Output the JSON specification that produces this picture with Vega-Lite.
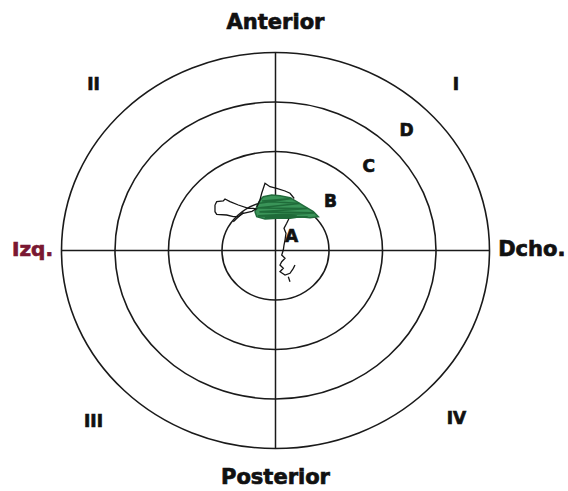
{
  "$schema": "https://vega.github.io/schema/vega-lite/v6.json",
  "width": 568,
  "height": 491,
  "autosize": {"type": "none"},
  "padding": 0,
  "background": "white",
  "config": {"view": {"stroke": null}},
  "datasets": {
    "rings": [{"r": 1}, {"r": 2}, {"r": 3}, {"r": 4}],
    "cross": [
      {"x1": -4, "x2": 4, "y1": 0, "y2": 0},
      {"x1": 0, "x2": 0, "y1": -4, "y2": 4}
    ],
    "blob": [
      {"o": 1, "u": -0.351, "v": 0.885},
      {"o": 2, "u": -0.29, "v": 1.02},
      {"o": 3, "u": -0.228, "v": 1.087},
      {"o": 4, "u": -0.071, "v": 1.121},
      {"o": 5, "u": 0.084, "v": 1.107},
      {"o": 6, "u": 0.271, "v": 1.067},
      {"o": 7, "u": 0.396, "v": 0.986},
      {"o": 8, "u": 0.551, "v": 0.885},
      {"o": 9, "u": 0.707, "v": 0.784},
      {"o": 10, "u": 0.8, "v": 0.683},
      {"o": 11, "u": 0.645, "v": 0.663},
      {"o": 12, "u": 0.458, "v": 0.683},
      {"o": 13, "u": 0.271, "v": 0.651},
      {"o": 14, "u": 0.022, "v": 0.651},
      {"o": 15, "u": -0.196, "v": 0.636},
      {"o": 16, "u": -0.351, "v": 0.683},
      {"o": 17, "u": -0.383, "v": 0.784},
      {"o": 18, "u": -0.351, "v": 0.885}
    ],
    "scribble": [
      {"o": 1, "u": -0.33, "v": 0.95},
      {"o": 2, "u": 0.3, "v": 1.05},
      {"o": 3, "u": -0.25, "v": 1.0},
      {"o": 4, "u": 0.45, "v": 0.95},
      {"o": 5, "u": -0.35, "v": 0.86},
      {"o": 6, "u": 0.6, "v": 0.85},
      {"o": 7, "u": -0.3, "v": 0.78},
      {"o": 8, "u": 0.72, "v": 0.76},
      {"o": 9, "u": -0.33, "v": 0.7},
      {"o": 10, "u": 0.6, "v": 0.68},
      {"o": 11, "u": -0.2, "v": 0.66},
      {"o": 12, "u": 0.4, "v": 0.72}
    ],
    "outline": [
      {"s": "L", "o": 1, "u": -1.131, "v": 0.919},
      {"s": "L", "o": 2, "u": -1.099, "v": 0.986},
      {"s": "L", "o": 3, "u": -0.976, "v": 1.0},
      {"s": "L", "o": 4, "u": -0.944, "v": 1.04},
      {"s": "L", "o": 5, "u": -0.85, "v": 0.986},
      {"s": "L", "o": 6, "u": -0.695, "v": 0.919},
      {"s": "L", "o": 7, "u": -0.508, "v": 0.853},
      {"s": "L", "o": 8, "u": -0.415, "v": 0.853},
      {"s": "L", "o": 9, "u": -0.36, "v": 0.84},
      {"s": "L", "o": 10, "u": -0.44, "v": 0.79},
      {"s": "L", "o": 11, "u": -0.602, "v": 0.752},
      {"s": "L", "o": 12, "u": -0.695, "v": 0.683},
      {"s": "L", "o": 13, "u": -0.789, "v": 0.683},
      {"s": "L", "o": 14, "u": -0.912, "v": 0.717},
      {"s": "L", "o": 15, "u": -1.099, "v": 0.731},
      {"s": "L", "o": 16, "u": -1.131, "v": 0.784},
      {"s": "L", "o": 17, "u": -1.131, "v": 0.919},
      {"s": "U", "o": 1, "u": -0.35, "v": 0.88},
      {"s": "U", "o": 2, "u": -0.29, "v": 1.02},
      {"s": "U", "o": 3, "u": -0.258, "v": 1.156},
      {"s": "U", "o": 4, "u": -0.196, "v": 1.358},
      {"s": "U", "o": 5, "u": -0.103, "v": 1.289},
      {"s": "U", "o": 6, "u": 0.022, "v": 1.257},
      {"s": "U", "o": 7, "u": 0.178, "v": 1.202},
      {"s": "U", "o": 8, "u": 0.271, "v": 1.156},
      {"s": "U", "o": 9, "u": 0.35, "v": 1.05},
      {"s": "X", "o": 1, "u": -0.789, "v": 0.582},
      {"s": "X", "o": 2, "u": -0.602, "v": 0.772},
      {"s": "D", "o": 1, "u": 0.25, "v": 0.64},
      {"s": "D", "o": 2, "u": 0.209, "v": 0.549},
      {"s": "D", "o": 3, "u": 0.159, "v": 0.448},
      {"s": "D", "o": 4, "u": 0.196, "v": 0.347},
      {"s": "D", "o": 5, "u": 0.178, "v": 0.212},
      {"s": "D", "o": 6, "u": 0.159, "v": 0.111},
      {"s": "D", "o": 7, "u": 0.146, "v": 0.01},
      {"s": "D", "o": 8, "u": 0.116, "v": -0.091},
      {"s": "D", "o": 9, "u": 0.178, "v": -0.158},
      {"s": "D", "o": 10, "u": 0.116, "v": -0.226},
      {"s": "D", "o": 11, "u": 0.084, "v": -0.293},
      {"s": "D", "o": 12, "u": 0.146, "v": -0.36},
      {"s": "D", "o": 13, "u": 0.084, "v": -0.428},
      {"s": "D", "o": 14, "u": 0.178, "v": -0.495},
      {"s": "D", "o": 15, "u": 0.271, "v": -0.461},
      {"s": "D", "o": 16, "u": 0.333, "v": -0.36},
      {"s": "D", "o": 17, "u": 0.364, "v": -0.293},
      {"s": "S", "o": 1, "u": 0.239, "v": -0.529},
      {"s": "S", "o": 2, "u": 0.271, "v": -0.63}
    ],
    "bigLabels": [
      {"t": "Anterior", "u": 0, "v": 4.606},
      {"t": "Posterior", "u": 0, "v": -4.6},
      {"t": "Dcho.", "u": 4.79, "v": 0}
    ],
    "sideLabel": [{"t": "Izq.", "u": -4.542, "v": 0}],
    "smallLabels": [
      {"t": "II", "u": -3.402, "v": 3.337},
      {"t": "I", "u": 3.37, "v": 3.337},
      {"t": "III", "u": -3.402, "v": -3.458},
      {"t": "IV", "u": 3.383, "v": -3.411},
      {"t": "D", "u": 2.449, "v": 2.414},
      {"t": "C", "u": 1.744, "v": 1.693},
      {"t": "B", "u": 1.026, "v": 0.986},
      {"t": "A", "u": 0.3, "v": 0.28}
    ]
  },
  "layer": [
    {
      "data": {"name": "rings"},
      "mark": {
        "type": "point",
        "shape": "M 1 0 C 1 0.511 0.5523 0.9252 0 0.9252 C -0.5523 0.9252 -1 0.511 -1 0 C -1 -0.511 -0.5523 -0.9252 0 -0.9252 C 0.5523 -0.9252 1 -0.511 1 0 Z",
        "filled": false,
        "stroke": "#1a1a1a",
        "strokeWidth": 1.6,
        "opacity": 1
      },
      "encoding": {
        "x": {"datum": 0, "type": "quantitative", "scale": {"domain": [-5.1495, 5.4673], "nice": false, "zero": false}, "axis": null},
        "y": {"datum": 0, "type": "quantitative", "scale": {"domain": [-4.8586, 5.0606], "nice": false, "zero": false}, "axis": null},
        "size": {"field": "r", "type": "quantitative", "scale": {"type": "pow", "exponent": 2, "domain": [0, 4], "range": [0, 183184]}, "legend": null}
      }
    },
    {
      "data": {"name": "cross"},
      "mark": {"type": "rule", "stroke": "#1a1a1a", "strokeWidth": 1.5},
      "encoding": {
        "x": {"field": "x1", "type": "quantitative", "scale": {"domain": [-5.1495, 5.4673], "nice": false, "zero": false}, "axis": null},
        "x2": {"field": "x2"},
        "y": {"field": "y1", "type": "quantitative", "scale": {"domain": [-4.8586, 5.0606], "nice": false, "zero": false}, "axis": null},
        "y2": {"field": "y2"}
      }
    },
    {
      "data": {"name": "blob"},
      "mark": {"type": "line", "fill": "#3a9458", "stroke": "#226b3c", "strokeWidth": 1.5, "interpolate": "linear"},
      "encoding": {
        "x": {"field": "u", "type": "quantitative", "scale": {"domain": [-5.1495, 5.4673], "nice": false, "zero": false}, "axis": null},
        "y": {"field": "v", "type": "quantitative", "scale": {"domain": [-4.8586, 5.0606], "nice": false, "zero": false}, "axis": null},
        "order": {"field": "o", "type": "quantitative"}
      }
    },
    {
      "data": {"name": "scribble"},
      "mark": {"type": "line", "stroke": "#1f6b39", "strokeWidth": 1.6},
      "encoding": {
        "x": {"field": "u", "type": "quantitative", "scale": {"domain": [-5.1495, 5.4673], "nice": false, "zero": false}, "axis": null},
        "y": {"field": "v", "type": "quantitative", "scale": {"domain": [-4.8586, 5.0606], "nice": false, "zero": false}, "axis": null},
        "order": {"field": "o", "type": "quantitative"}
      }
    },
    {
      "data": {"name": "outline"},
      "mark": {"type": "line", "stroke": "#151515", "strokeWidth": 1.3},
      "encoding": {
        "x": {"field": "u", "type": "quantitative", "scale": {"domain": [-5.1495, 5.4673], "nice": false, "zero": false}, "axis": null},
        "y": {"field": "v", "type": "quantitative", "scale": {"domain": [-4.8586, 5.0606], "nice": false, "zero": false}, "axis": null},
        "detail": {"field": "s", "type": "nominal"},
        "order": {"field": "o", "type": "quantitative"}
      }
    },
    {
      "data": {"name": "bigLabels"},
      "mark": {"type": "text", "font": "DejaVu Sans", "fontWeight": "bold", "fontSize": 21, "fill": "#111111", "stroke": "#111111", "strokeWidth": 0.7, "align": "center", "baseline": "middle"},
      "encoding": {
        "x": {"field": "u", "type": "quantitative", "scale": {"domain": [-5.1495, 5.4673], "nice": false, "zero": false}, "axis": null},
        "y": {"field": "v", "type": "quantitative", "scale": {"domain": [-4.8586, 5.0606], "nice": false, "zero": false}, "axis": null},
        "text": {"field": "t"}
      }
    },
    {
      "data": {"name": "sideLabel"},
      "mark": {"type": "text", "font": "DejaVu Sans", "fontWeight": "bold", "fontSize": 20, "fill": "#7a1832", "stroke": "#7a1832", "strokeWidth": 0.7, "align": "center", "baseline": "middle"},
      "encoding": {
        "x": {"field": "u", "type": "quantitative", "scale": {"domain": [-5.1495, 5.4673], "nice": false, "zero": false}, "axis": null},
        "y": {"field": "v", "type": "quantitative", "scale": {"domain": [-4.8586, 5.0606], "nice": false, "zero": false}, "axis": null},
        "text": {"field": "t"}
      }
    },
    {
      "data": {"name": "smallLabels"},
      "mark": {"type": "text", "font": "DejaVu Sans", "fontWeight": "bold", "fontSize": 17, "fill": "#111111", "stroke": "#111111", "strokeWidth": 0.7, "align": "center", "baseline": "middle"},
      "encoding": {
        "x": {"field": "u", "type": "quantitative", "scale": {"domain": [-5.1495, 5.4673], "nice": false, "zero": false}, "axis": null},
        "y": {"field": "v", "type": "quantitative", "scale": {"domain": [-4.8586, 5.0606], "nice": false, "zero": false}, "axis": null},
        "text": {"field": "t"}
      }
    }
  ]
}
